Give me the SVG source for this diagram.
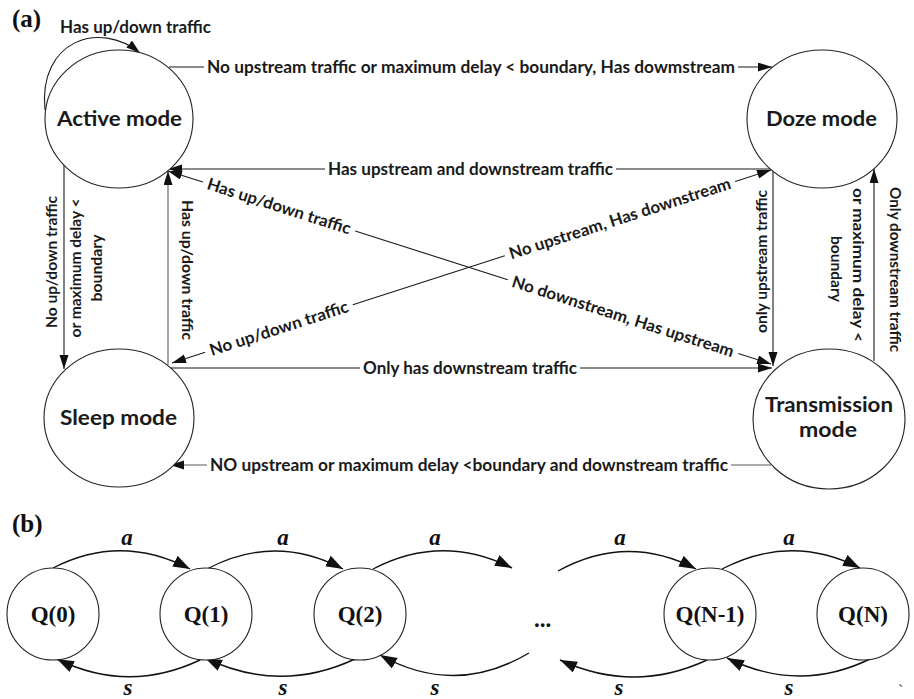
<svg xmlns="http://www.w3.org/2000/svg" width="914" height="699" viewBox="0 0 914 699">
  <defs>
    <marker id="arrow" markerUnits="userSpaceOnUse" markerWidth="15" markerHeight="10" refX="14" refY="4.5" orient="auto">
      <path d="M0,0 L14,4.5 L0,9 z" fill="#111"/>
    </marker>
    <marker id="arrowB" markerUnits="userSpaceOnUse" markerWidth="18" markerHeight="13" refX="17" refY="6" orient="auto">
      <path d="M0,0 L17,6 L0,12 z" fill="#111"/>
    </marker>
    <style>
      .state { fill: #fff; stroke: #222; stroke-width: 1.1; }
      .qnode { fill: #fff; stroke: #222; stroke-width: 1.1; }
      .name { font-family: Lato, "Open Sans", sans-serif; font-weight: bold; font-size: 21px; fill: #1a1a1a; text-anchor: middle; }
      .lbl { font-family: Lato, "Open Sans", sans-serif; font-weight: bold; font-size: 16.5px; fill: #1a1a1a; }
      .vlbl { font-family: Lato, "Open Sans", sans-serif; font-weight: bold; font-size: 15.5px; fill: #1a1a1a; text-anchor: middle; }
      .mid { text-anchor: middle; }
      .edge { fill: none; stroke: #1a1a1a; stroke-width: 1.1; }
      .edge.grey { stroke: #5a5a5a; }
      .arc { fill: none; stroke: #111; stroke-width: 1.4; }
      .tag { font-family: "Liberation Serif", "Times New Roman", serif; font-weight: bold; font-size: 25px; fill: #111; }
      .q { font-family: "Liberation Serif", "Times New Roman", serif; font-weight: bold; font-size: 23px; fill: #111; text-anchor: middle; }
      .rate { font-family: "Liberation Serif", "Times New Roman", serif; font-weight: bold; font-style: italic; font-size: 23px; fill: #111; text-anchor: middle; }
    </style>
  </defs>

  <rect width="914" height="699" fill="#fff"/>

  <!-- (a) power-saving state machine -->
  <text class="tag" x="12" y="27">(a)</text>

  <g id="connectors">
    <!-- self loop on Active -->
    <path class="edge" d="M 45 110 C 38 40, 100 20, 140 53" marker-end="url(#arrow)"/>
    <text class="lbl" x="60" y="33" textLength="151" lengthAdjust="spacingAndGlyphs">Has up/down traffic</text>

    <!-- Active -> Doze -->
    <path class="edge" d="M 169 67 H 204"/>
    <path class="edge" d="M 738 67 H 772" marker-end="url(#arrow)"/>
    <text class="lbl" x="207" y="72.5" textLength="528" lengthAdjust="spacingAndGlyphs">No upstream traffic or maximum delay &lt; boundary,  Has dowmstream</text>

    <!-- Doze -> Active -->
    <path class="edge" d="M 773 169 H 616"/>
    <path class="edge" d="M 325 169 H 168" marker-end="url(#arrow)"/>
    <text class="lbl" x="328" y="174.5" textLength="285" lengthAdjust="spacingAndGlyphs">Has upstream and downstream traffic</text>

    <!-- Active <-> Transmission diagonal -->
    <path class="edge" d="M 202.8 182.1 L 168 171" marker-end="url(#arrow)"/>
    <path class="edge" d="M 355.2 230.9 L 507.8 279.8"/>
    <path class="edge" d="M 738.3 353.5 L 771 364" marker-end="url(#arrow)"/>
    <text class="lbl mid" transform="translate(279 206.5) rotate(17.75)" x="0" y="5.5" textLength="150" lengthAdjust="spacingAndGlyphs">Has up/down traffic</text>
    <text class="lbl mid" transform="translate(623 316.7) rotate(17.75)" x="0" y="5.5" textLength="232" lengthAdjust="spacingAndGlyphs">No downstream, Has upstream</text>

    <!-- Sleep <-> Doze diagonal -->
    <path class="edge" d="M 205.2 352.3 L 172 363" marker-end="url(#arrow)"/>
    <path class="edge" d="M 352.8 304.8 L 504.8 255.8"/>
    <path class="edge" d="M 735.1 181.6 L 771 170" marker-end="url(#arrow)"/>
    <text class="lbl mid" transform="translate(279 328.5) rotate(-17.86)" x="0" y="5.5" textLength="145" lengthAdjust="spacingAndGlyphs">No up/down traffic</text>
    <text class="lbl mid" transform="translate(620 218.7) rotate(-17.86)" x="0" y="5.5" textLength="232" lengthAdjust="spacingAndGlyphs">No upstream, Has downstream</text>

    <!-- Active -> Sleep -->
    <path class="edge" d="M 64 165 V 369" marker-end="url(#arrow)"/>
    <text class="vlbl" transform="translate(52 262) rotate(-90)" y="5.3" textLength="132" lengthAdjust="spacingAndGlyphs">No up/down traffic</text>
    <text class="vlbl" transform="translate(76 268) rotate(-90)" y="5.3" textLength="139" lengthAdjust="spacingAndGlyphs">or maximum delay &lt;</text>
    <text class="vlbl" transform="translate(97 268) rotate(-90)" y="5.3" textLength="67" lengthAdjust="spacingAndGlyphs">boundary</text>

    <!-- Sleep -> Active -->
    <path class="edge grey" d="M 168 365 V 171" marker-end="url(#arrow)"/>
    <text class="vlbl" transform="translate(187 270) rotate(90)" y="5.3" textLength="140" lengthAdjust="spacingAndGlyphs">Has up/down traffic</text>

    <!-- Sleep -> Transmission -->
    <path class="edge" d="M 168 368 H 360"/>
    <path class="edge" d="M 580 368 H 772" marker-end="url(#arrow)"/>
    <text class="lbl" x="363" y="373.5" textLength="214" lengthAdjust="spacingAndGlyphs">Only has downstream traffic</text>

    <!-- Doze -> Transmission -->
    <path class="edge" d="M 773 170 V 366" marker-end="url(#arrow)"/>
    <text class="vlbl" transform="translate(762 261.5) rotate(-90)" y="5.3" textLength="143" lengthAdjust="spacingAndGlyphs">only upstream traffic</text>

    <!-- Transmission -> Doze -->
    <path class="edge" d="M 874 361 V 169" marker-end="url(#arrow)"/>
    <text class="vlbl" transform="translate(895 269.5) rotate(90)" y="5.3" textLength="165" lengthAdjust="spacingAndGlyphs">Only downstream traffic</text>
    <text class="vlbl" transform="translate(858 265) rotate(90)" y="5.3" textLength="154" lengthAdjust="spacingAndGlyphs">or maximum delay &lt;</text>
    <text class="vlbl" transform="translate(836 269) rotate(90)" y="5.3" textLength="66" lengthAdjust="spacingAndGlyphs">boundary</text>

    <!-- Transmission -> Sleep -->
    <path class="edge grey" d="M 771 465 H 731"/>
    <path class="edge grey" d="M 207 465 H 170" marker-end="url(#arrow)"/>
    <text class="lbl" x="210" y="470.5" textLength="518" lengthAdjust="spacingAndGlyphs">NO upstream or maximum delay &lt;boundary  and downstream traffic</text>
  </g>

  <g id="active">
    <ellipse class="state" cx="119" cy="119" rx="74" ry="69"/>
    <text class="name" x="119.5" y="126" textLength="125" lengthAdjust="spacingAndGlyphs">Active mode</text>
  </g>
  <g id="doze">
    <ellipse class="state" cx="822" cy="119" rx="75" ry="69"/>
    <text class="name" x="821.5" y="126" textLength="111" lengthAdjust="spacingAndGlyphs">Doze mode</text>
  </g>
  <g id="sleep">
    <ellipse class="state" cx="119" cy="418" rx="75" ry="69"/>
    <text class="name" x="118.5" y="425" textLength="117" lengthAdjust="spacingAndGlyphs">Sleep mode</text>
  </g>
  <g id="transmission">
    <ellipse class="state" cx="829" cy="419" rx="76" ry="70"/>
    <text class="name" x="829" y="412" textLength="128" lengthAdjust="spacingAndGlyphs">Transmission</text>
    <text class="name" x="828" y="437" textLength="58" lengthAdjust="spacingAndGlyphs">mode</text>
  </g>

  <!-- (b) queue birth-death chain -->
  <text class="tag" x="12" y="532">(b)</text>

  <g id="chain-connectors">
    <path class="arc" d="M 53 568 Q 121 533 190 569" marker-end="url(#arrowB)"/>
    <path class="arc" d="M 207 569 Q 275 533 343 569" marker-end="url(#arrowB)"/>
    <path class="arc" d="M 373 569 Q 442 533 512 568" marker-end="url(#arrowB)"/>
    <path class="arc" d="M 558 571 Q 627 533 696 569" marker-end="url(#arrowB)"/>
    <path class="arc" d="M 722 569 Q 791 533 860 568" marker-end="url(#arrowB)"/>

    <path class="arc" d="M 200 660 Q 128 694 57 659" marker-end="url(#arrowB)"/>
    <path class="arc" d="M 355 659 Q 280 694 205 658" marker-end="url(#arrowB)"/>
    <path class="arc" d="M 529 653 Q 455 697 380 655" marker-end="url(#arrowB)"/>
    <path class="arc" d="M 707 660 Q 634 694 560 660" marker-end="url(#arrowB)"/>
    <path class="arc" d="M 872 658 Q 800 694 727 658" marker-end="url(#arrowB)"/>

    <text class="rate" x="127" y="545">a</text>
    <text class="rate" x="283" y="545">a</text>
    <text class="rate" x="435" y="545">a</text>
    <text class="rate" x="620" y="545">a</text>
    <text class="rate" x="789" y="545">a</text>

    <text class="rate" x="128" y="695">s</text>
    <text class="rate" x="283" y="695">s</text>
    <text class="rate" x="435" y="695">s</text>
    <text class="rate" x="619" y="695">s</text>
    <text class="rate" x="789" y="695">s</text>
  </g>

  <g id="q0">
    <circle class="qnode" cx="53" cy="614" r="46"/>
    <text class="q" x="53" y="622">Q(0)</text>
  </g>
  <g id="q1">
    <circle class="qnode" cx="206" cy="614" r="46"/>
    <text class="q" x="206" y="622">Q(1)</text>
  </g>
  <g id="q2">
    <circle class="qnode" cx="360" cy="614" r="46"/>
    <text class="q" x="360" y="622">Q(2)</text>
  </g>
  <g id="ellipsis">
    <text class="q" x="542.5" y="627" font-size="40">...</text>
  </g>
  <g id="qn-1">
    <circle class="qnode" cx="710" cy="614" r="46"/>
    <text class="q" x="710" y="622">Q(N-1)</text>
  </g>
  <g id="qn">
    <circle class="qnode" cx="863" cy="614" r="46"/>
    <text class="q" x="863" y="622">Q(N)</text>
  </g>

  <text x="898" y="696" font-family="Liberation Serif, serif" font-size="16" fill="#333">`</text>
</svg>
